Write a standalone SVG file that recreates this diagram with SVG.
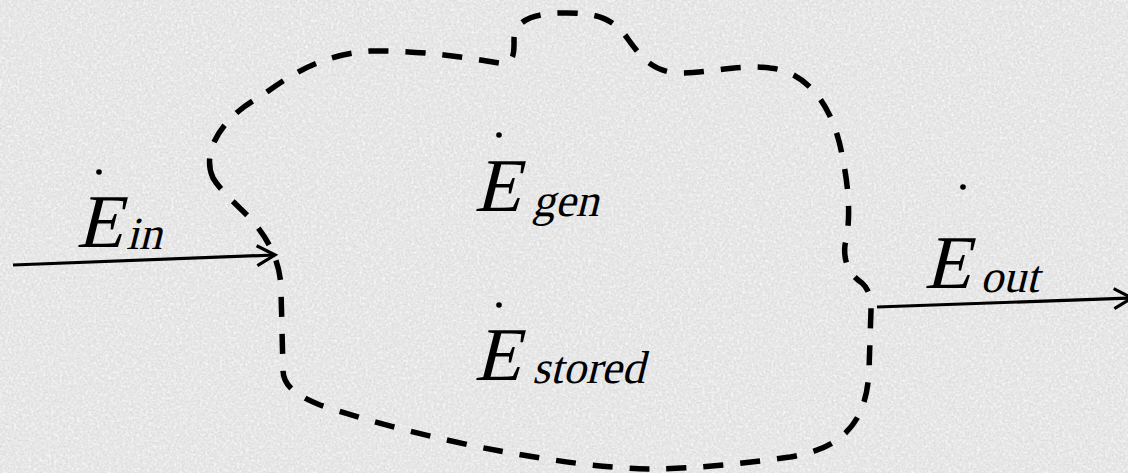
<svg xmlns="http://www.w3.org/2000/svg" width="1128" height="473" viewBox="0 0 1128 473">
  <style>
    text { font-family: "Liberation Serif", "Times New Roman", serif; fill: #000; }
    .main { font-size: 76px; }
    .sub { font-size: 46px; }
    .dot { fill: #000; }
    .boundary { fill: none; stroke: #000; stroke-width: 5.5; stroke-dasharray: 20 17; stroke-linecap: butt; }
    .arrow { fill: none; stroke: #000; stroke-width: 3.2; }
  </style>
  <defs>
    <filter id="noiseDark" x="0" y="0" width="1128" height="473" filterUnits="userSpaceOnUse">
      <feTurbulence type="fractalNoise" baseFrequency="0.5" numOctaves="2" seed="7" result="t"/>
      <feColorMatrix in="t" type="matrix" values="0 0 0 0 0.62  0 0 0 0 0.62  0 0 0 0 0.62  1.6 0 0 0 -0.75"/>
    </filter>
    <filter id="noiseLight" x="0" y="0" width="1128" height="473" filterUnits="userSpaceOnUse">
      <feTurbulence type="fractalNoise" baseFrequency="0.35" numOctaves="2" seed="19" result="t"/>
      <feColorMatrix in="t" type="matrix" values="0 0 0 0 1  0 0 0 0 1  0 0 0 0 1  -1.8 0 0 0 1.0"/>
    </filter>
    <marker id="open" markerUnits="userSpaceOnUse" markerWidth="24" markerHeight="26" refX="19" refY="11" orient="auto" viewBox="0 0 24 22">
      <path d="M1,1 L19,11 L1,21" fill="none" stroke="#000" stroke-width="3.2"/>
    </marker>
  </defs>

  <g id="background">
    <rect x="0" y="0" width="1128" height="473" fill="#e6e6e6"/>
    <rect x="0" y="0" width="1128" height="473" filter="url(#noiseLight)"/>
    <rect x="0" y="0" width="1128" height="473" filter="url(#noiseDark)"/>
  </g>

  <g id="system-boundary">
    <path class="boundary" d="M213,178 C200,150 225,115 260,97 C290,75 320,55 370,51 C420,50 470,58 505,64 C515,60 514,50 514,40 C514,22 530,14 560,13 C600,12 612,20 625,35 C640,55 650,72 680,73 C710,73 740,64 770,68 C810,72 835,110 843,160 C849,190 851,220 845,245 C843,262 850,275 862,283 C870,290 871,300 871,310 L869,370 C867,420 845,448 790,457 C740,464 690,469 648,469 C600,468 550,460 500,451 C440,440 370,422 320,405 C295,395 283,385 283,370 L281,290 C281,265 270,240 250,218 C235,203 220,190 213,178 Z"/>
  </g>

  <g id="connectors">
    <line id="arrow-in" class="arrow" x1="13" y1="265" x2="275" y2="255" marker-end="url(#open)"/>
    <line id="arrow-out" class="arrow" x1="877" y1="307" x2="1132" y2="298" marker-end="url(#open)"/>
  </g>

  <g id="labels">
    <g id="label-E-in">
      <circle class="dot" cx="99" cy="172" r="2.8"/>
      <text class="main" transform="translate(76,247) skewX(-14)">E</text>
      <text class="sub" transform="translate(126,249) skewX(-14)">in</text>
    </g>
    <g id="label-E-gen">
      <circle class="dot" cx="499" cy="135" r="2.8"/>
      <text class="main" transform="translate(474,211) skewX(-14)">E</text>
      <text class="sub" transform="translate(532,216) skewX(-14)">gen</text>
    </g>
    <g id="label-E-stored">
      <circle class="dot" cx="499" cy="305" r="2.8"/>
      <text class="main" transform="translate(474,380) skewX(-14)">E</text>
      <text class="sub" transform="translate(532,383) skewX(-14)">stored</text>
    </g>
    <g id="label-E-out">
      <circle class="dot" cx="963" cy="187" r="2.8"/>
      <text class="main" transform="translate(924,288) skewX(-14)">E</text>
      <text class="sub" transform="translate(980,292) skewX(-14)">out</text>
    </g>
  </g>
</svg>
